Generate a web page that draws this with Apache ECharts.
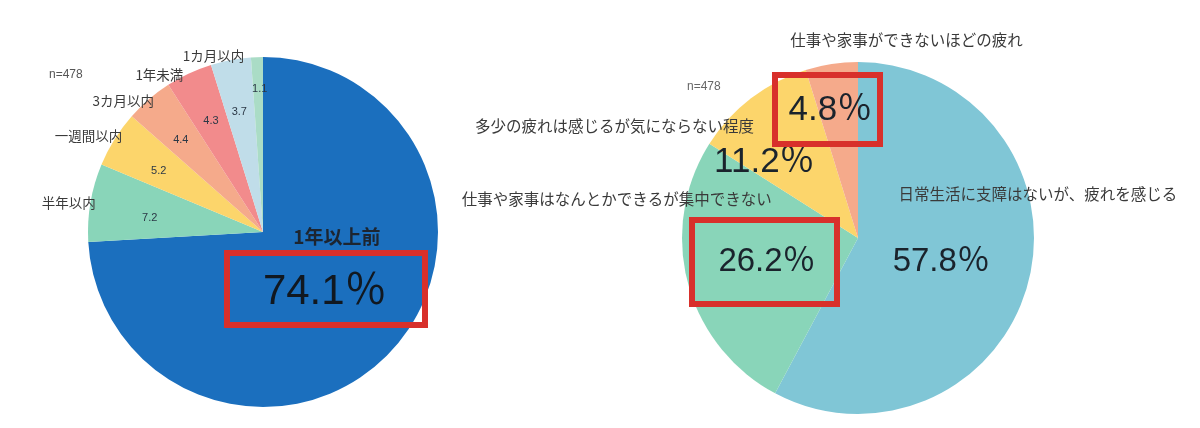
<html lang="ja">
<head>
    <meta charset="UTF-8">
    <title>疲れ</title>
    <script src="https://cdn.jsdelivr.net/npm/echarts@6/dist/echarts.min.js"></script>
    <style type="text/css">
        html, body {
            margin: 0;
            padding: 0;
            background: #fff;
        }
        #main {
            width: 1200px;
            height: 428px;
        }
    </style>
</head>
<body>
<div id="main"></div>
<script>
    // 左: 最後に…したのはいつか (n=478)
    var leftNames = ['1年以上前', '半年以内', '一週間以内', '3カ月以内', '1年未満', '1カ月以内', ''];
    var leftValues = [74.1, 7.2, 5.2, 4.4, 4.3, 3.7, 1.1];
    var leftColors = ['#1b6fbe', '#89d5b9', '#fcd56b', '#f5aa8b', '#f28b8c', '#c0dde9', '#aadcc6'];

    // 右: 疲れの程度 (n=478)
    var rightNames = ['日常生活に支障はないが、疲れを感じる', '仕事や家事はなんとかできるが集中できない',
        '多少の疲れは感じるが気にならない程度', '仕事や家事ができないほどの疲れ'];
    var rightValues = [57.8, 26.2, 11.2, 4.8];
    var rightColors = ['#80c6d6', '#89d5b9', '#fcd56b', '#f5aa8b'];

    var sampleText = 'n=478';

    var JP = "'Noto Sans CJK JP', sans-serif";
    var NUM = "'Liberation Sans', 'Noto Sans CJK JP', sans-serif";
    var RED = '#d8302b';

    var L = {center: [263, 232], r: 175};
    var R = {center: [858, 238], r: 176};

    // label nudges (px) so the texts sit where the original put them
    var leftValueNudge = [null, [8, 7], [0, 4], [-2, 1], [0, 0], [-1, 1], [1, -20]];
    var leftNameNudge = [null, [-4, 3], [-11, 6], [-14, 15], [-22, 18], [-14, 14], null];
    var rightValueNudge = [[-5, 2], [-3, 1], [-14, 28], [-8, 2]];
    var rightNameNudge = [[-17, -93], [-45, -91], [-120, 49], [79, 3]];

    // transparent ring whose inside labels fall at ringR from the centre
    function labelRing(pos, ringR, names, values, labelFor) {
        return {
            type: 'pie',
            center: pos.center,
            radius: [0, ringR * 2],
            silent: true,
            avoidLabelOverlap: false,
            labelLine: {show: false},
            itemStyle: {color: 'rgba(0,0,0,0)', borderWidth: 0},
            data: values.map(function (v, i) {
                return {name: names[i] || ('_' + i), value: v, label: labelFor(i, v)};
            })
        };
    }

    var leftMain = {
        type: 'pie',
        center: L.center,
        radius: [0, L.r],
        avoidLabelOverlap: false,
        labelLine: {show: false},
        itemStyle: {borderWidth: 0},
        data: leftValues.map(function (v, i) {
            var item = {name: leftNames[i] || '_' + i, value: v, itemStyle: {color: leftColors[i]}, label: {show: false}};
            if (i === 0) {
                item.label = {
                    show: true,
                    position: 'inside',
                    offset: [-4, -15],
                    formatter: '{a|' + leftNames[0] + '}\n{b|' + v.toFixed(1) + '％}',
                    rich: {
                        a: {fontFamily: JP, fontSize: 19, fontWeight: 'bold', color: '#1d2530', lineHeight: 26, padding: [0, 0, 0, 24]},
                        b: {fontFamily: NUM, fontSize: 42, color: '#111820', lineHeight: 84}
                    }
                };
            }
            return item;
        })
    };

    var leftValueRing = labelRing(L, 120, leftNames, leftValues, function (i, v) {
        if (i === 0) return {show: false};
        return {
            show: true, position: 'inside', offset: leftValueNudge[i],
            formatter: v.toFixed(1), fontFamily: NUM, fontSize: 11, color: '#2b3846'
        };
    });

    var leftNameRing = labelRing(L, 190, leftNames, leftValues, function (i) {
        if (!leftNameNudge[i]) return {show: false};
        return {
            show: true, position: 'inside', offset: leftNameNudge[i],
            formatter: leftNames[i], fontFamily: JP, fontSize: 13.5, color: '#3a3a3a'
        };
    });

    var rightMain = {
        type: 'pie',
        center: R.center,
        radius: [0, R.r],
        avoidLabelOverlap: false,
        labelLine: {show: false},
        itemStyle: {borderWidth: 0},
        data: rightValues.map(function (v, i) {
            return {
                name: rightNames[i], value: v, itemStyle: {color: rightColors[i]},
                label: {
                    show: v > 20, position: 'inside', offset: rightValueNudge[i],
                    formatter: v.toFixed(1) + '％', fontFamily: NUM, fontSize: 33, color: '#1a232c'
                }
            };
        })
    };

    var rightValueRing = labelRing(R, 128, rightNames, rightValues, function (i, v) {
        if (v > 20) return {show: false};
        return {
            show: true, position: 'inside', offset: rightValueNudge[i],
            formatter: v.toFixed(1) + '％', fontFamily: NUM, fontSize: 35, color: '#1a232c'
        };
    });

    var rightNameRing = labelRing(R, 200, rightNames, rightValues, function (i) {
        return {
            show: true, position: 'inside', offset: rightNameNudge[i],
            formatter: rightNames[i], fontFamily: JP, fontSize: 15.5, color: '#3a3a3a'
        };
    });

    function box(x, y, w, h) {
        return {
            type: 'rect', z: 100, silent: true,
            shape: {x: x, y: y, width: w, height: h},
            style: {fill: null, stroke: RED, lineWidth: 6}
        };
    }

    var myChart = echarts.init(document.getElementById('main'));
    var option = {
        backgroundColor: '#fff',
        animation: false,
        title: [
            {text: sampleText, left: 44, top: 64, textStyle: {fontFamily: NUM, fontSize: 12, fontWeight: 'normal', color: '#555'}},
            {text: sampleText, left: 682, top: 76, textStyle: {fontFamily: NUM, fontSize: 12, fontWeight: 'normal', color: '#666'}}
        ],
        graphic: [
            box(227, 253, 198, 72),
            box(775, 75, 105, 69),
            box(692, 220, 145, 84)
        ],
        series: [leftMain, leftValueRing, leftNameRing, rightMain, rightValueRing, rightNameRing]
    };
    myChart.setOption(option);
</script>
</body>
</html>
